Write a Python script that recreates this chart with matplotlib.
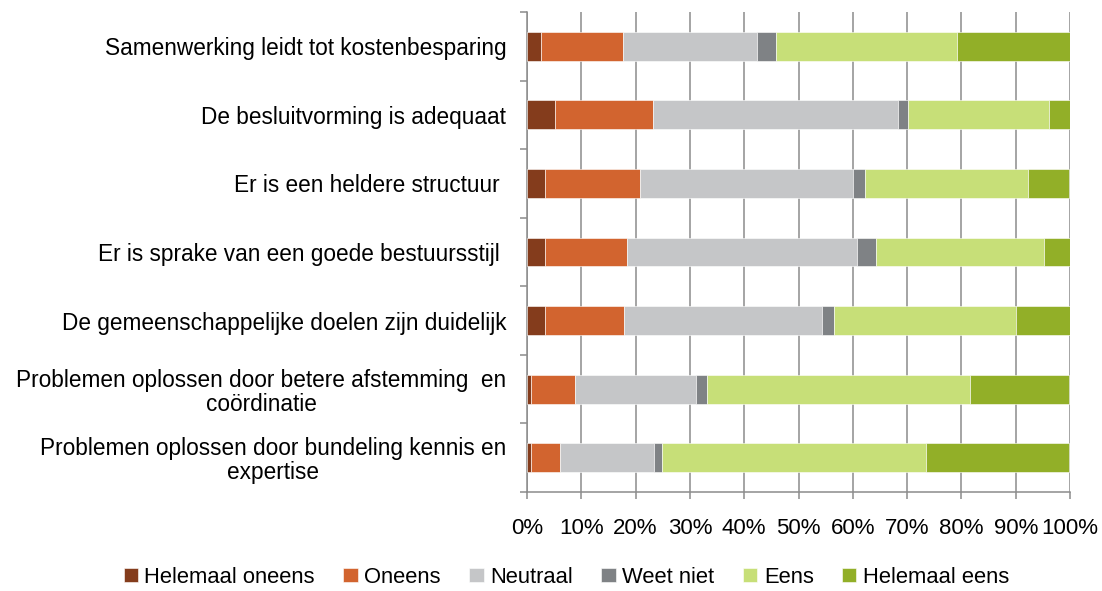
import matplotlib.pyplot as plt
import numpy as np

# Categories (top to bottom)
stellingen = [
    "Samenwerking leidt tot kostenbesparing",
    "De besluitvorming is adequaat",
    "Er is een heldere structuur ",
    "Er is sprake van een goede bestuursstijl ",
    "De gemeenschappelijke doelen zijn duidelijk",
    "Problemen oplossen door betere afstemming  en\ncoördinatie",
    "Problemen oplossen door bundeling kennis en\nexpertise",
]

antwoorden = ["Helemaal oneens", "Oneens", "Neutraal", "Weet niet", "Eens", "Helemaal eens"]
kleuren = ["#843C1C", "#D2642F", "#C5C6C8", "#7F8285", "#C7DF78", "#92AF28"]

# Percentages per answer, one value per statement (same order as stellingen)
helemaal_oneens = [2.6, 5.1, 3.3, 3.3, 3.3, 0.7, 0.7]
oneens = [15.0, 18.1, 17.5, 15.1, 14.6, 8.1, 5.3]
neutraal = [24.8, 45.2, 39.3, 42.4, 36.4, 22.3, 17.3]
weet_niet = [3.5, 1.8, 2.2, 3.5, 2.2, 2.0, 1.5]
eens = [33.3, 25.9, 29.9, 31.0, 33.5, 48.5, 48.7]
helemaal_eens = [20.8, 4.0, 7.7, 4.7, 10.0, 18.3, 26.4]

reeksen = [helemaal_oneens, oneens, neutraal, weet_niet, eens, helemaal_eens]

plt.rcParams['font.family'] = ['Liberation Sans', 'DejaVu Sans']

fig = plt.figure(figsize=(11.02, 5.91), dpi=100)
ax = fig.add_axes([527 / 1102, 1 - 492 / 591, 543 / 1102, 480 / 591])

y = np.arange(len(stellingen))
left = np.zeros(len(stellingen))
for naam, waarden, kleur in zip(antwoorden, reeksen, kleuren):
    w = np.array(waarden)
    ax.barh(y, w, left=left, height=0.42, color=kleur, label=naam,
            edgecolor="white", linewidth=0.4, zorder=3)
    left += w

ax.set_xlim(0, 100)
ax.set_ylim(len(stellingen) - 0.5, -0.5)
ax.set_xticks(np.arange(0, 101, 10))
ax.set_xticklabels([f"{v}%" for v in range(0, 101, 10)], fontsize=16)
ax.xaxis.grid(True, color="#8C8C8C", linewidth=1.1, zorder=0)

ax.set_yticks(y)
ax.set_yticklabels(stellingen, fontsize=16.3, multialignment="center", linespacing=1.05)
ax.set_yticks(np.arange(-0.5, len(stellingen)), minor=True)
ax.tick_params(axis="y", which="major", length=0, pad=15)
ax.tick_params(axis="y", which="minor", length=5, color="#8C8C8C", width=1.1)
ax.tick_params(axis="x", length=5, color="#8C8C8C", width=1.1, pad=14)

for s in ["top", "right"]:
    ax.spines[s].set_visible(False)
for s in ["left", "bottom"]:
    ax.spines[s].set_color("#8C8C8C")
    ax.spines[s].set_linewidth(1.1)

fig.legend(loc="lower center", bbox_to_anchor=(0.514, -0.028), ncol=6, frameon=False,
           fontsize=15.8, handlelength=0.65, handleheight=0.65, handletextpad=0.3,
           columnspacing=1.3)

fig.savefig("out.png", dpi=100)
